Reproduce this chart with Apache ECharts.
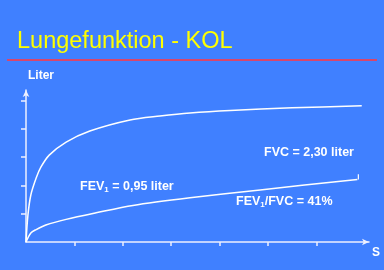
<!DOCTYPE html>
<html>
<head>
<meta charset="utf-8">
<script src="https://cdn.jsdelivr.net/npm/echarts@6/dist/echarts.min.js"></script>
<style>
html, body { margin: 0; padding: 0; background: #4080ff; }
#chart { width: 384px; height: 270px; }
</style>
</head>
<body>
<div id="chart"></div>
<script>
// FVC kurve (øverste)
var fvcX = [0, 0.04, 0.1, 0.21, 0.31, 0.48, 0.83, 1.32, 2.15, 2.77, 3.39, 4.22, 5.5, 6.94];
var fvcY = [0, 0.95, 1.66, 2.26, 2.65, 3.07, 3.53, 3.92, 4.31, 4.45, 4.56, 4.65, 4.74, 4.81];
// FEV1 kurve (nederste)
var fevX = [0, 0.1, 0.21, 0.41, 0.83, 1.45, 2.21, 3.39, 4.84, 6.85];
var fevY = [0, 0.32, 0.44, 0.6, 0.8, 1.03, 1.29, 1.56, 1.84, 2.21];
var fevEndX = [6.87, 6.87];
var fevEndY = [2.21, 2.39];
var xTicks = [1, 2, 3, 4, 5, 6];
var yTicks = [1, 2, 3, 4, 5];

function zip(a, b) {
  var out = [];
  for (var i = 0; i < a.length; i++) out.push([a[i], b[i]]);
  return out;
}

var myChart = echarts.init(document.getElementById("chart"));
var labelFont = "Liberation Sans, Arial, sans-serif";
var option = {
  backgroundColor: "#4080ff",
  animation: false,
  grid: { left: 26, right: 15, top: 90, bottom: 28 },
  xAxis: {
    type: "value",
    min: 0,
    max: 7.09,
    axisLine: {
      lineStyle: { color: "#eef0ff", width: 1.5 },
      symbol: ["none", "arrow"],
      symbolSize: [5, 7],
    },
    axisTick: { show: true, length: 4, customValues: xTicks, lineStyle: { color: "#eef0ff", width: 1.5 } },
    axisLabel: { show: false },
    splitLine: { show: false },
  },
  yAxis: {
    type: "value",
    min: 0,
    max: 5.37,
    axisLine: {
      lineStyle: { color: "#eef0ff", width: 1.5 },
      symbol: ["none", "arrow"],
      symbolSize: [5, 7],
    },
    axisTick: { show: true, length: 5, customValues: yTicks, lineStyle: { color: "#eef0ff", width: 1.5 } },
    axisLabel: { show: false },
    splitLine: { show: false },
  },
  series: [
    {
      name: "FVC",
      type: "line",
      data: zip(fvcX, fvcY),
      smooth: 0.3,
      showSymbol: false,
      lineStyle: { color: "#ffffff", width: 1.5, join: "round" },
    },
    {
      name: "FEV1",
      type: "line",
      data: zip(fevX, fevY),
      smooth: 0.3,
      showSymbol: false,
      lineStyle: { color: "#ffffff", width: 1.5, join: "round" },
    },
    {
      name: "end",
      type: "line",
      data: zip(fevEndX, fevEndY),
      showSymbol: false,
      lineStyle: { color: "#ffffff", width: 1.2 },
    },
  ],
  graphic: [
    {
      type: "text",
      left: 17,
      top: 30,
      style: {
        text: "Lungefunktion - KOL",
        fill: "#ffff00",
        font: "23.5px " + labelFont,
      },
    },
    {
      type: "line",
      shape: { x1: 7, y1: 60, x2: 377, y2: 60 },
      style: { stroke: "#d9466b", lineWidth: 2 },
    },
    {
      type: "text",
      x: 28,
      y: 76,
      style: {
        text: "Liter",
        fill: "#ffffff",
        font: "bold 12px " + labelFont,
        verticalAlign: "middle",
      },
    },
    {
      type: "text",
      x: 372,
      y: 253,
      style: {
        text: "S",
        fill: "#ffffff",
        font: "bold 12px " + labelFont,
        verticalAlign: "middle",
      },
    },
    {
      type: "text",
      x: 80,
      y: 187,
      style: {
        text: "{a|FEV}{s|1}{a| = 0,95 liter}",
        fill: "#ffffff",
        verticalAlign: "middle",
        rich: {
          a: { fill: "#ffffff", font: "bold 12.5px " + labelFont },
          s: { fill: "#ffffff", font: "bold 8px " + labelFont, padding: [5, 0, 0, 0] },
        },
      },
    },
    {
      type: "text",
      x: 264,
      y: 153,
      style: {
        text: "FVC = 2,30 liter",
        fill: "#ffffff",
        font: "bold 12.5px " + labelFont,
        verticalAlign: "middle",
      },
    },
    {
      type: "text",
      x: 236,
      y: 202,
      style: {
        text: "{a|FEV}{s|1}{a|/FVC = 41%}",
        fill: "#ffffff",
        verticalAlign: "middle",
        rich: {
          a: { fill: "#ffffff", font: "bold 12.5px " + labelFont },
          s: { fill: "#ffffff", font: "bold 8px " + labelFont, padding: [5, 0, 0, 0] },
        },
      },
    },
  ],
};
myChart.setOption(option);
window.addEventListener("resize", function () {
  myChart.resize();
});
</script>
</body>
</html>
